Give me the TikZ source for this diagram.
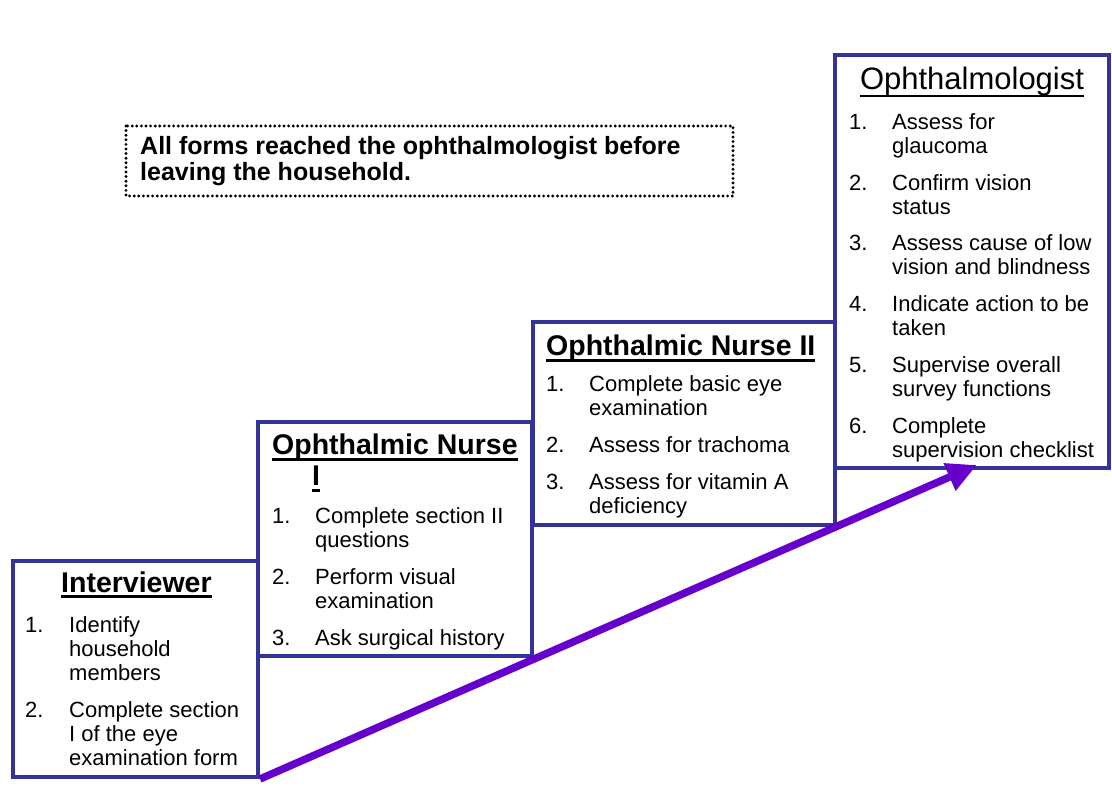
\documentclass[tikz,border=0pt]{standalone}
\usepackage{fontspec}
\setmainfont{Liberation Sans}
\usetikzlibrary{arrows.meta}
\definecolor{boxblue}{RGB}{51,51,153}
\definecolor{arrowpurple}{RGB}{102,0,204}
\newcommand\myul[3]{\setbox0\hbox{#3}\rlap{\rule[#1]{\wd0}{#2}}\box0}
\newcommand\ml[1]{\begin{tabular}[t]{@{}l@{}}#1\end{tabular}}
\tikzset{
  stagebox/.style={draw=boxblue, line width=4pt, fill=white, inner sep=0pt},
  num/.style={anchor=base west, inner sep=0pt, font=\fontsize{22}{24}\selectfont},
  itm/.style={anchor=base west, inner sep=0pt, font=\fontsize{22}{24}\selectfont},
  ttl/.style={anchor=base west, inner sep=0pt, font=\fontsize{28.5}{31}\selectfont\bfseries},
  note/.style={anchor=base west, inner sep=0pt, font=\fontsize{25}{26}\selectfont\bfseries},
}
\begin{document}
\begin{tikzpicture}[x=1pt,y=-1pt]
\useasboundingbox (0,0) rectangle (1112,791);
% boxes
\node[stagebox, minimum width=245pt, minimum height=216pt] (int) at (135.5,669) {};
\node[stagebox, minimum width=274pt, minimum height=234pt] (nI) at (395,539) {};
\node[stagebox, minimum width=302pt, minimum height=203pt] (nII) at (684,423.5) {};
\node[stagebox, minimum width=274pt, minimum height=413pt] (oph) at (972,261.5) {};
% dotted note
\draw[line width=3.2pt, dash pattern=on 0pt off 4.6pt, line cap=round] (126,126) rectangle (733,196);
\node[note] (noteA) at (140,155) {\ml{All forms reached the ophthalmologist before\\leaving the household.}};
% Interviewer
\node[ttl] (intT) at (61,592) {\myul{-6pt}{3pt}{Interviewer}};
\node[num] (intn1) at (25,632) {1.};
\node[itm] (inti1) at (69,632) {\ml{Identify\\household\\members}};
\node[num] (intn2) at (25,717) {2.};
\node[itm] (inti2) at (69,717) {\ml{Complete section\\I of the eye\\examination form}};
% Nurse I
\node[ttl] (nIT) at (272,455) {\myul{-6pt}{3pt}{Ophthalmic Nurse}};
\node[ttl] (nIT2) at (312,486) {\myul{-6pt}{3pt}{I}};
\node[num] (nIn1) at (272,524) {1.};
\node[itm] (nIi1) at (315,524) {\ml{Complete section II\\questions}};
\node[num] (nIn2) at (272,584) {2.};
\node[itm] (nIi2) at (315,584) {\ml{Perform visual\\examination}};
\node[num] (nIn3) at (272,645) {3.};
\node[itm] (nIi3) at (315,645) {Ask surgical history};
% Nurse II
\node[ttl] (nIIT) at (546,356) {\myul{-6pt}{3pt}{Ophthalmic Nurse II}};
\node[num] (nIIn1) at (546,392) {1.};
\node[itm] (nIIi1) at (589,392) {\ml{Complete basic eye\\examination}};
\node[num] (nIIn2) at (546,453) {2.};
\node[itm] (nIIi2) at (589,453) {Assess for trachoma};
\node[num] (nIIn3) at (546,490) {3.};
\node[itm] (nIIi3) at (589,490) {\ml{Assess for vitamin A\\deficiency}};
% Ophthalmologist
\node[anchor=base, inner sep=0pt, font=\fontsize{31}{34}\selectfont] (ophT) at (972,90) {\myul{-7pt}{2pt}{Ophthalmologist}};
\node[num] (ophn1) at (849,130) {1.};
\node[itm] (ophi1) at (892,130) {\ml{Assess for\\glaucoma}};
\node[num] (ophn2) at (849,191) {2.};
\node[itm] (ophi2) at (892,191) {\ml{Confirm vision\\status}};
\node[num] (ophn3) at (849,251) {3.};
\node[itm] (ophi3) at (892,251) {\ml{Assess cause of low\\vision and blindness}};
\node[num] (ophn4) at (849,312) {4.};
\node[itm] (ophi4) at (892,312) {\ml{Indicate action to be\\taken}};
\node[num] (ophn5) at (849,373) {5.};
\node[itm] (ophi5) at (892,373) {\ml{Supervise overall\\survey functions}};
\node[num] (ophn6) at (849,434) {6.};
\node[itm] (ophi6) at (892,434) {\ml{Complete\\supervision checklist}};
% arrow
\coordinate (tip) at (977,465);
\draw[arrowpurple, line width=7.5pt, -{Triangle[length=30pt,width=28pt]}] (int.south east) -- (tip);
\end{tikzpicture}
\end{document}
